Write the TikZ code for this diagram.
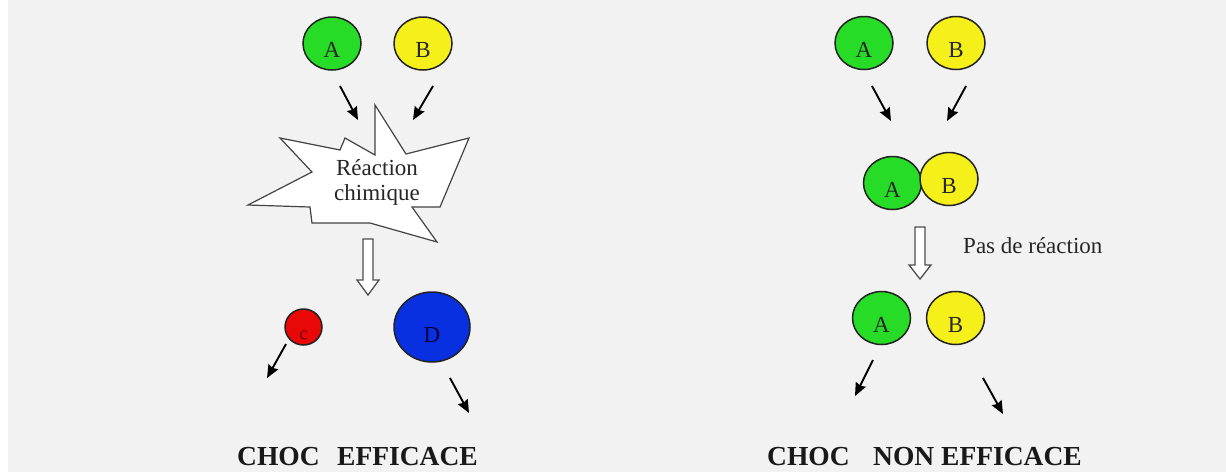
\documentclass[tikz,border=0pt]{standalone}
\usepackage{fontspec}
\setmainfont{Liberation Serif}
\usetikzlibrary{arrows.meta,shapes.geometric}
\definecolor{bg}{HTML}{F2F2F2}
\definecolor{cgreen}{HTML}{26DC26}
\definecolor{cyellow}{HTML}{F6F01A}
\definecolor{cred}{HTML}{E80808}
\definecolor{cblue}{HTML}{0830E0}
\definecolor{cline}{HTML}{222222}
\newcommand\inball[2][14pt]{\raisebox{-#1}[0pt][0pt]{#2}}
\tikzset{
  ball/.style={ellipse, draw=cline, line width=1.5pt, inner sep=0pt,
    font=\fontsize{23}{24}\selectfont, text=black!85},
  mol/.style={ball, minimum width=58pt, minimum height=53pt},
  arr/.style={line width=1.9pt, -{Stealth[length=13pt,width=11pt,inset=1.5pt]}},
  hollow/.style={draw=cline!80, line width=1.3pt, fill=white},
  title/.style={anchor=base west, inner sep=0pt, font=\fontsize{27.5}{30}\selectfont\bfseries, text=black!90},
}
\begin{document}
\begin{tikzpicture}[x=1pt,y=-1pt]
\useasboundingbox (0,0) rectangle (1226,472);
\fill[white] (0,0) rectangle (1226,472);
\fill[bg] (8,0) rectangle (1226,472);

% ---------- left: choc efficace ----------
\node[mol, fill=cgreen] (A1) at (332,43.5) {\inball{A}};
\node[mol, fill=cyellow] (B1) at (423,43.5) {\inball{B}};
\coordinate (a1s) at (340,86); \coordinate (a1e) at (358,120);
\coordinate (b1s) at (433,86); \coordinate (b1e) at (413,120);
\draw[arr] (a1s) -- (a1e);
\draw[arr] (b1s) -- (b1e);

% explosion
\draw[draw=cline!85, line width=1.2pt, fill=white]
  (375,105) -- (406,154) -- (469,138) -- (440,207) -- (412,207) -- (437,242)
  -- (370,223) -- (312,223) -- (310,207) -- (248,205) -- (312,172)
  -- (280,138) -- (340,150) -- (345,138) -- (375,155) -- cycle;
\node[align=center, inner sep=0pt, font=\fontsize{23}{25}\selectfont, text=black!85] (R) at (377,182) {Réaction\\chimique};

% hollow arrow
\draw[hollow] (363,239) -- (373,239) -- (373,280) -- (379,280) -- (368,295)
  -- (357,280) -- (363,280) -- cycle;

\node[ball, fill=cred, minimum width=37pt, minimum height=36pt, font=\fontsize{18}{18}\selectfont, text=red!40!black] (C1) at (303.5,327) {\inball[12pt]{c}};
\node[ball, fill=cblue, minimum width=76pt, minimum height=70pt, font=\fontsize{23}{24}\selectfont, text=blue!25!black] (D1) at (432,327) {\inball[15pt]{D}};
\coordinate (c1s) at (286,344); \coordinate (c1e) at (267,378);
\coordinate (d1s) at (450,378); \coordinate (d1e) at (469,413);
\draw[arr] (c1s) -- (c1e);
\draw[arr] (d1s) -- (d1e);

\node[title] (t1a) at (237,465) {CHOC};
\node[title] (t1b) at (337,465) {EFFICACE};

% ---------- right: choc non efficace ----------
\node[mol, fill=cgreen] (A2) at (864,43) {\inball{A}};
\node[mol, fill=cyellow] (B2) at (956,43) {\inball{B}};
\coordinate (a2s) at (872,86); \coordinate (a2e) at (891,121);
\coordinate (b2s) at (966,86); \coordinate (b2e) at (947,121);
\draw[arr] (a2s) -- (a2e);
\draw[arr] (b2s) -- (b2e);

\node[mol, fill=cgreen] (A3) at (892.5,183) {\inball{A}};
\node[mol, fill=cyellow] (B3) at (949,179) {\inball{B}};

\draw[hollow] (915,227) -- (925,227) -- (925,265) -- (931,265) -- (920,279)
  -- (909,265) -- (915,265) -- cycle;
\node[anchor=base west, inner sep=0pt, font=\fontsize{23}{25}\selectfont, text=black!85] (P) at (963,253) {Pas de réaction};

\node[mol, fill=cgreen] (A4) at (881.5,318) {\inball{A}};
\node[mol, fill=cyellow] (B4) at (955.5,318) {\inball{B}};
\coordinate (a4s) at (873,360); \coordinate (a4e) at (855,396);
\coordinate (b4s) at (983,378); \coordinate (b4e) at (1003,414);
\draw[arr] (a4s) -- (a4e);
\draw[arr] (b4s) -- (b4e);

\node[title] (t2a) at (767,465) {CHOC};
\node[title] (t2b) at (873,465) {NON EFFICACE};
\end{tikzpicture}
\end{document}
